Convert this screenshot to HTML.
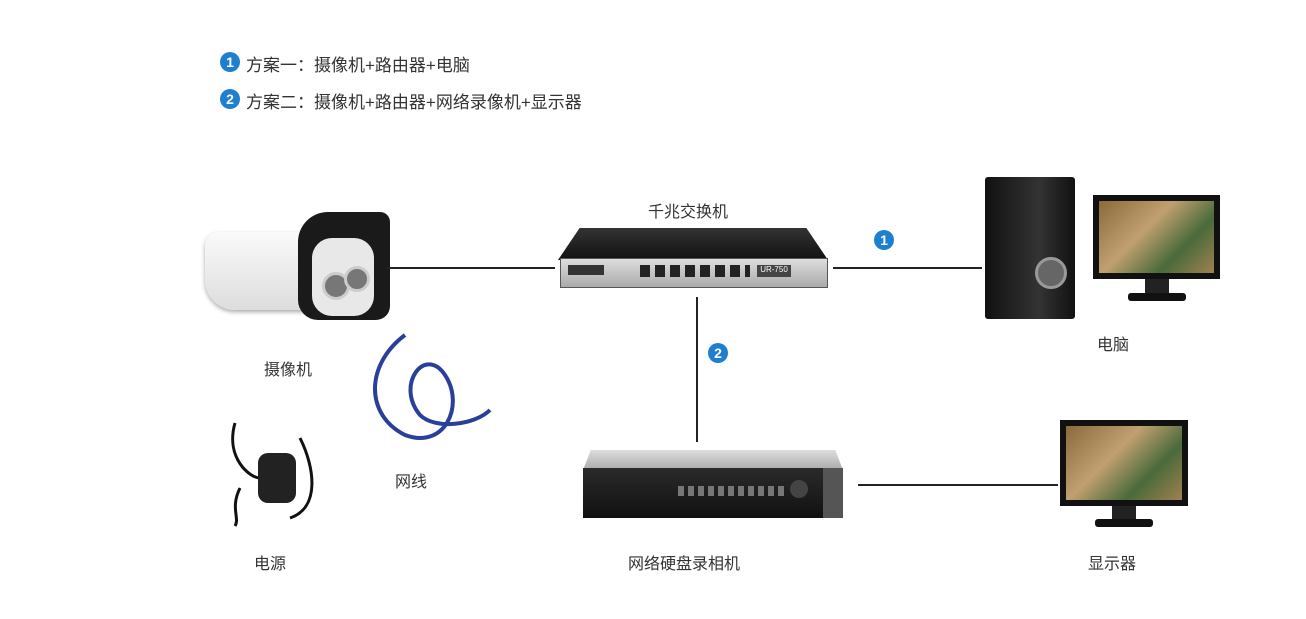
<!DOCTYPE html>
<html><head><meta charset="utf-8"><style>
body{margin:0;width:1306px;height:619px;background:#fff;position:relative;overflow:hidden;font-family:"Liberation Sans","Noto Sans CJK SC",sans-serif;color:#333}
.a{position:absolute}
.t{position:absolute;font-size:17px;white-space:nowrap}
.num{position:absolute;width:20px;height:20px;border-radius:50%;background:#1e7fd0;color:#fff;font-size:14px;font-weight:bold;text-align:center;line-height:20px}
.ln{position:absolute;background:#222}
</style></head><body>
<div class="num" style="left:220px;top:52px">1</div><div class="t" style="left:246px;top:51px">方案一：摄像机+路由器+电脑</div>
<div class="num" style="left:220px;top:89px">2</div><div class="t" style="left:246px;top:88px">方案二：摄像机+路由器+网络录像机+显示器</div>

<!-- camera -->
<div class="a" style="left:205px;top:232px;width:110px;height:78px;background:linear-gradient(#fafafa,#ddd);border-radius:14px 4px 4px 30px;box-shadow:0 2px 4px #aaa"></div>
<div class="a" style="left:298px;top:212px;width:92px;height:108px;background:#1a1a1a;border-radius:30px 10px 14px 20px"></div>
<div class="a" style="left:312px;top:238px;width:62px;height:78px;background:#e8e8e8;border-radius:20px"></div>
<div class="a" style="left:322px;top:272px;width:22px;height:22px;background:#777;border-radius:50%;border:3px solid #ccc"></div>
<div class="a" style="left:344px;top:266px;width:20px;height:20px;background:#777;border-radius:50%;border:3px solid #ccc"></div>
<div class="t" style="left:264px;top:356px;font-size:16px">摄像机</div>

<!-- cable -->
<svg class="a" style="left:365px;top:325px" width="140" height="125"><path d="M40 10 C0 40,0 90,40 110 C80 125,100 80,80 50 C60 20,30 60,55 90 C70 105,110 100,125 85" stroke="#2a3f9a" stroke-width="4" fill="none"/></svg>
<div class="t" style="left:395px;top:468px;font-size:16px">网线</div>

<!-- power -->
<svg class="a" style="left:220px;top:418px" width="110" height="110"><path d="M15 5 C5 40,30 60,40 60 M80 20 C95 50,100 90,70 100 M20 70 C10 90,20 100,15 108" stroke="#111" stroke-width="3" fill="none"/><rect x="38" y="35" width="38" height="50" rx="10" fill="#222"/></svg>
<div class="t" style="left:254px;top:550px;font-size:16px">电源</div>

<!-- lines -->
<div class="ln" style="left:385px;top:267px;width:170px;height:2px"></div>
<div class="ln" style="left:833px;top:267px;width:149px;height:2px"></div>
<div class="ln" style="left:696px;top:297px;width:2px;height:145px"></div>
<div class="ln" style="left:858px;top:484px;width:200px;height:2px"></div>
<div class="num" style="left:874px;top:230px">1</div>
<div class="num" style="left:708px;top:343px">2</div>

<!-- switch -->
<div class="t" style="left:648px;top:198px;font-size:16px">千兆交换机</div>
<div class="a" style="left:558px;top:228px;width:270px;height:32px;background:linear-gradient(#333,#111);clip-path:polygon(8% 0,92% 0,100% 100%,0 100%)"></div>
<div class="a" style="left:560px;top:258px;width:266px;height:28px;background:linear-gradient(#ddd,#aaa);border:1px solid #555"></div>
<div class="a" style="left:568px;top:265px;width:36px;height:10px;background:#333"></div>
<div class="a" style="left:640px;top:265px;width:110px;height:12px;background:repeating-linear-gradient(90deg,#222 0 10px,transparent 10px 15px)"></div>
<div class="a" style="left:757px;top:265px;width:34px;height:12px;background:#444;color:#fff;font-size:8px;text-align:center">UR-750</div>

<!-- PC -->
<div class="a" style="left:985px;top:177px;width:90px;height:142px;background:linear-gradient(90deg,#111,#333 60%,#111);border-radius:3px"></div>
<div class="a" style="left:1035px;top:257px;width:26px;height:26px;border-radius:50%;background:#666;border:3px solid #999"></div>
<div class="a" style="left:1093px;top:195px;width:127px;height:84px;background:#111"></div>
<div class="a" style="left:1099px;top:201px;width:115px;height:72px;background:linear-gradient(135deg,#8a6a3a,#c0a070 40%,#4a6a3a 70%,#a08050)"></div>
<div class="a" style="left:1145px;top:279px;width:24px;height:14px;background:#222"></div>
<div class="a" style="left:1128px;top:293px;width:58px;height:8px;background:#111;border-radius:3px"></div>
<div class="t" style="left:1097px;top:331px;font-size:16px">电脑</div>

<!-- NVR -->
<div class="a" style="left:583px;top:450px;width:260px;height:20px;background:linear-gradient(#ddd,#aaa);clip-path:polygon(3% 0,97% 0,100% 100%,0 100%)"></div>
<div class="a" style="left:583px;top:468px;width:240px;height:50px;background:linear-gradient(#2a2a2a,#111)"></div>
<div class="a" style="left:823px;top:468px;width:20px;height:50px;background:#555"></div>
<div class="a" style="left:678px;top:486px;width:110px;height:10px;background:repeating-linear-gradient(90deg,#777 0 6px,transparent 6px 10px)"></div>
<div class="a" style="left:790px;top:480px;width:18px;height:18px;border-radius:50%;background:#444"></div>
<div class="t" style="left:628px;top:550px;font-size:16px">网络硬盘录相机</div>

<!-- monitor 2 -->
<div class="a" style="left:1060px;top:420px;width:128px;height:86px;background:#111"></div>
<div class="a" style="left:1066px;top:426px;width:116px;height:74px;background:linear-gradient(135deg,#8a6a3a,#c0a070 40%,#4a6a3a 70%,#a08050)"></div>
<div class="a" style="left:1112px;top:506px;width:24px;height:14px;background:#222"></div>
<div class="a" style="left:1095px;top:519px;width:58px;height:8px;background:#111;border-radius:3px"></div>
<div class="t" style="left:1088px;top:550px;font-size:16px">显示器</div>
</body></html>
